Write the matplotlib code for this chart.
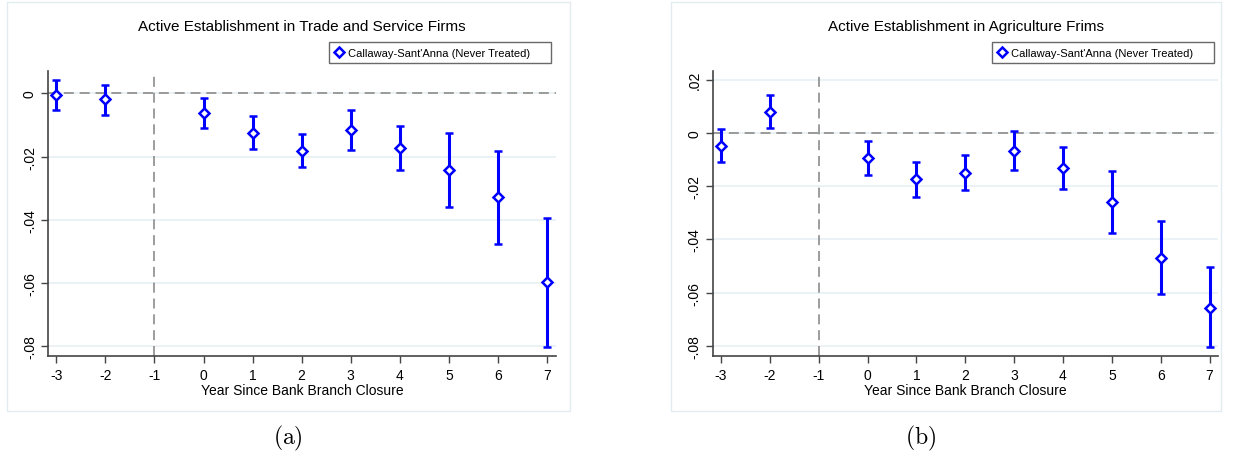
import matplotlib
matplotlib.use("Agg")
import matplotlib.pyplot as plt
from matplotlib.lines import Line2D
from matplotlib.patches import Rectangle
from matplotlib.ticker import FuncFormatter

plt.rcParams['font.family'] = ['Liberation Sans', 'DejaVu Sans']
plt.rcParams['mathtext.fontset'] = 'cm'

years = [-3, -2, 0, 1, 2, 3, 4, 5, 6, 7]

# panel (a): trade and service
trade_est = [-0.0004, -0.0019, -0.0061, -0.0125, -0.0181, -0.0116, -0.0173, -0.0242, -0.0328, -0.0597]
trade_lo = [-0.0051, -0.0067, -0.0108, -0.0177, -0.0233, -0.0179, -0.0241, -0.0358, -0.0476, -0.0801]
trade_hi = [0.0043, 0.0028, -0.0013, -0.0073, -0.0127, -0.0052, -0.0102, -0.0125, -0.0181, -0.0394]

# panel (b): agriculture
agri_est = [-0.0049, 0.0079, -0.0095, -0.0174, -0.0150, -0.0068, -0.0133, -0.0259, -0.0469, -0.0656]
agri_lo = [-0.0111, 0.0018, -0.0159, -0.0241, -0.0215, -0.0141, -0.0211, -0.0375, -0.0606, -0.0805]
agri_hi = [0.0015, 0.0141, -0.0030, -0.0108, -0.0083, 0.0008, -0.0053, -0.0144, -0.0330, -0.0505]

xticks = [-3, -2, -1, 0, 1, 2, 3, 4, 5, 6, 7]
legend_label = "Callaway-Sant'Anna (Never Treated)"
xlabel = "Year Since Bank Branch Closure"

W, H = 1233, 452
fig = plt.figure(figsize=(W / 100, H / 100), dpi=100)


def fx(px):
    return px / W


def fy(py):
    return 1 - py / H


def ytick_fmt(v, pos):
    if abs(v) < 1e-9:
        return "0"
    return f"{v:.2f}".replace("0.", ".")


def panel(ax, est, lo, hi, title, yticks, ylim, leg_box):
    yerr = [[e - l for e, l in zip(est, lo)], [h - e for e, h in zip(est, hi)]]
    for yt in yticks:
        ax.axhline(yt, color='#e8f0f3', lw=1.2, zorder=0)
    ax.axhline(0, color='#8c8c8c', lw=1.2, ls=(0, (6, 3.5)), zorder=1)
    ax.axvline(-1, color='#8c8c8c', lw=1.2, ls=(0, (6, 3.5)), zorder=1)
    ax.errorbar(years, est, yerr=yerr, fmt='D', color='#0000ff', ecolor='#0000ff',
                elinewidth=2.2, capsize=3.2, capthick=2.0, markersize=5,
                mfc='white', mec='#0000ff', mew=1.8, zorder=3)
    ax.set_xlim(-3.17, 7.18)
    ax.set_ylim(*ylim)
    ax.set_xticks(xticks)
    ax.set_xticklabels([str(t) for t in xticks])
    ax.set_yticks(yticks)
    ax.yaxis.set_major_formatter(FuncFormatter(ytick_fmt))
    for lab in ax.get_yticklabels():
        lab.set_rotation(90)
        lab.set_va('center')
    ax.tick_params(axis='both', labelsize=10, length=5, width=1, color='#444444', direction='out')
    ax.tick_params(axis='y', pad=3)
    ax.spines['top'].set_visible(False)
    ax.spines['right'].set_visible(False)
    for sp in ('left', 'bottom'):
        ax.spines[sp].set_color('#444444')
        ax.spines[sp].set_linewidth(1.2)
    ax.set_xlabel(xlabel, fontsize=10, labelpad=1)
    ax.text(0.5, 1.158, title, transform=ax.transAxes, ha='center', va='center', fontsize=11)
    handle = Line2D([], [], ls='none', marker='D', markersize=5, mfc='white',
                    mec='#0000ff', mew=1.8)
    leg = ax.legend([handle], [legend_label + "     "], loc='upper right',
                    bbox_to_anchor=leg_box, bbox_transform=fig.transFigure,
                    fontsize=8, frameon=True, fancybox=False, borderpad=0.5,
                    handletextpad=0.4, handlelength=0.8, borderaxespad=0)
    leg.get_frame().set_edgecolor('#444444')
    leg.get_frame().set_linewidth(1.0)


# panel frames
fig.patches.append(Rectangle((fx(7), fy(412)), fx(570 - 7), (412 - 3) / H, transform=fig.transFigure,
                             fill=False, edgecolor='#e2ebf0', lw=1.0))
fig.patches.append(Rectangle((fx(671), fy(412)), fx(1221 - 671), (412 - 3) / H, transform=fig.transFigure,
                             fill=False, edgecolor='#e2ebf0', lw=1.0))

ax1 = fig.add_axes([fx(48), fy(357), fx(555.8 - 48), (357 - 72) / H])
panel(ax1, trade_est, trade_lo, trade_hi, "Active Establishment in Trade and Service Firms",
      [0, -0.02, -0.04, -0.06, -0.08], (-0.0831, 0.0071), (fx(551), fy(43)))

ax2 = fig.add_axes([fx(712.6), fy(357), fx(1218.4 - 712.6), (357 - 72) / H])
panel(ax2, agri_est, agri_lo, agri_hi, "Active Establishment in Agriculture Frims",
      [0.02, 0, -0.02, -0.04, -0.06, -0.08], (-0.08375, 0.02325), (fx(1214), fy(43)))

fig.text(fx(288), fy(438), r"$\mathrm{(a)}$", ha='center', va='center', fontsize=17)
fig.text(fx(921), fy(438), r"$\mathrm{(b)}$", ha='center', va='center', fontsize=17)

fig.savefig("out.png", dpi=100)
